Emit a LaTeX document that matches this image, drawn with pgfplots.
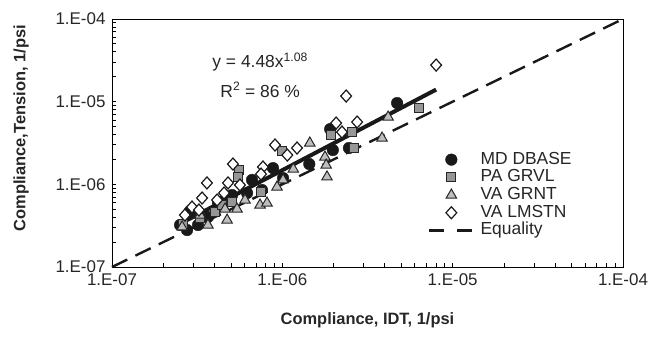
\documentclass[border=0pt]{standalone}
\usepackage{pgfplots}
\pgfplotsset{compat=1.18}
\usepackage{fontspec}
\setmainfont{Liberation Sans}
\definecolor{sqgray}{RGB}{150,150,150}
\definecolor{trgray}{RGB}{190,190,190}
\begin{document}
\begin{tikzpicture}
\useasboundingbox (0bp,0bp) rectangle (653bp,338bp);
\begin{axis}[
  at={(112bp,71bp)}, anchor=south west,
  scale only axis, width=511bp, height=248bp,
  xmode=log, ymode=log,
  xmin=1e-7, xmax=1e-4, ymin=1e-7, ymax=1e-4,
  xtick={1e-7,1e-6,1e-5,1e-4}, ytick={1e-7,1e-6,1e-5,1e-4},
  xticklabels={1.E-07,1.E-06,1.E-05,1.E-04},
  yticklabels={1.E-07,1.E-06,1.E-05,1.E-04},
  xtick pos=bottom, ytick pos=left, tick align=inside,
  major tick length=4bp, minor tick length=4bp,
  tick style={black, line width=0.8pt},
  axis line style={line width=0.9pt},
  ticklabel style={font=\fontsize{17}{20}\selectfont, text=black!85},
  xticklabel style={yshift=-3bp},
  yticklabel style={xshift=-3bp},
  xlabel={Compliance, IDT, 1/psi},
  ylabel={Compliance,Tension, 1/psi},
  every axis x label/.style={at={(axis description cs:0.5,-0.215)}, anchor=center,
     font=\fontsize{16.5}{19}\selectfont\bfseries, text=black!85},
  every axis y label/.style={at={(axis description cs:-0.178,0.56)}, anchor=center, rotate=90,
     font=\fontsize{16.5}{19}\selectfont\bfseries, text=black!85},
  clip=false,
  legend image code/.code={\draw[mark repeat=2,mark phase=2,#1] plot coordinates {(0bp,0bp) (22bp,0bp) (44bp,0bp)}; \path (50bp,0bp);},
  legend style={draw=none, fill=none, at={(rel axis cs:0.6125,0.472)}, anchor=north west,
    font=\fontsize{17.5}{17.5}\selectfont, text=black!85, row sep=2.7bp,
    nodes={inner sep=0bp, text height=12bp, text depth=3bp}},
  legend cell align=left,
]
% Equality
\addplot[forget plot, black!90, line width=2.4bp, dash pattern=on 17bp off 9bp] coordinates {(1e-7,1e-7) (1e-4,1e-4)};
% MD DBASE
\addplot[only marks, mark=*, mark size=5.8bp, mark options={fill=black!90, draw=black!90}] coordinates {
(4.72e-6,9.62e-6) (1.91e-6,4.66e-6) (1.98e-6,2.60e-6) (2.46e-6,2.75e-6) (1.44e-6,1.76e-6)
(8.82e-7,1.57e-6) (1.01e-6,1.19e-6) (6.64e-7,1.13e-6) (6.21e-7,7.85e-7) (5.07e-7,7.42e-7)
(4.19e-7,5.94e-7) (2.87e-7,4.76e-7) (3.20e-7,3.22e-7) (2.76e-7,2.80e-7) (3.66e-7,4.02e-7)
(2.51e-7,3.22e-7) (4.61e-7,6.46e-7) (7.60e-7,8.53e-7)};
\addlegendentry{MD DBASE}
% PA GRVL
\addplot[only marks, mark=square*, mark size=4.5bp, mark options={fill=sqgray, draw=black!85, line width=1pt}] coordinates {
(6.35e-6,8.37e-6) (1.93e-6,3.95e-6) (2.64e-6,2.75e-6) (2.57e-6,4.29e-6) (9.96e-7,2.53e-6)
(5.57e-7,1.49e-6) (5.49e-7,1.23e-6) (7.50e-7,8.07e-7) (5.07e-7,6.11e-7) (4.03e-7,4.62e-7)
(3.29e-7,3.91e-7) (2.61e-7,3.31e-7) (4.43e-7,5.62e-7)};
\addlegendentry{PA GRVL}
% VA GRNT
\addplot[only marks, mark=triangle*, mark size=6bp, mark options={fill=trgray, draw=black!85, line width=1pt}] coordinates {
(4.18e-6,6.51e-6) (3.85e-6,3.63e-6) (1.45e-6,3.16e-6) (1.78e-6,2.14e-6) (1.81e-6,1.71e-6)
(1.83e-6,1.23e-6) (1.16e-6,1.53e-6) (1.01e-6,1.13e-6) (9.31e-7,9.28e-7) (7.40e-7,5.62e-7)
(8.13e-7,5.94e-7) (5.42e-7,5.03e-7) (4.61e-7,5.03e-7) (4.74e-7,3.70e-7) (3.66e-7,3.22e-7)
(2.58e-7,3.05e-7) (3.29e-7,4.25e-7) (6.04e-7,6.46e-7)};
\addlegendentry{VA GRNT}
% VA LMSTN
\addplot[only marks, mark=diamond*, mark size=6bp, mark options={fill=white, draw=black!90, line width=1.2pt, xscale=1.2}] coordinates {
(8.0e-6,2.77e-5) (2.37e-6,1.17e-5) (2.07e-6,5.51e-6) (2.75e-6,5.67e-6) (2.24e-6,4.29e-6)
(9.06e-7,2.99e-6) (1.22e-6,2.75e-6) (1.07e-6,2.26e-6) (5.13e-7,1.76e-6) (7.70e-7,1.62e-6)
(7.50e-7,1.33e-6) (3.61e-7,1.04e-6) (4.80e-7,1.04e-6) (5.64e-7,9.81e-7) (4.55e-7,7.85e-7)
(3.38e-7,6.83e-7) (2.95e-7,5.31e-7) (3.24e-7,4.89e-7) (4.14e-7,6.46e-7) (2.68e-7,4.25e-7)};
\addlegendentry{VA LMSTN}
% Regression
\addplot[forget plot, black!90, line width=4bp] coordinates {(2.5e-7,3.32e-7) (8.0e-6,1.40e-5)};
\addlegendimage{black!90, line width=2.4bp, dash pattern=on 15bp off 13bp}
\addlegendentry{Equality}
\node[font=\fontsize{17.5}{17.5}\selectfont, text=black!85] at (rel axis cs:0.29,0.827) {y = 4.48x\textsuperscript{1.08}};
\node[font=\fontsize{17.5}{17.5}\selectfont, text=black!85] at (rel axis cs:0.29,0.714) {R\textsuperscript{2} = 86 \%};
\end{axis}
\end{tikzpicture}
\end{document}
